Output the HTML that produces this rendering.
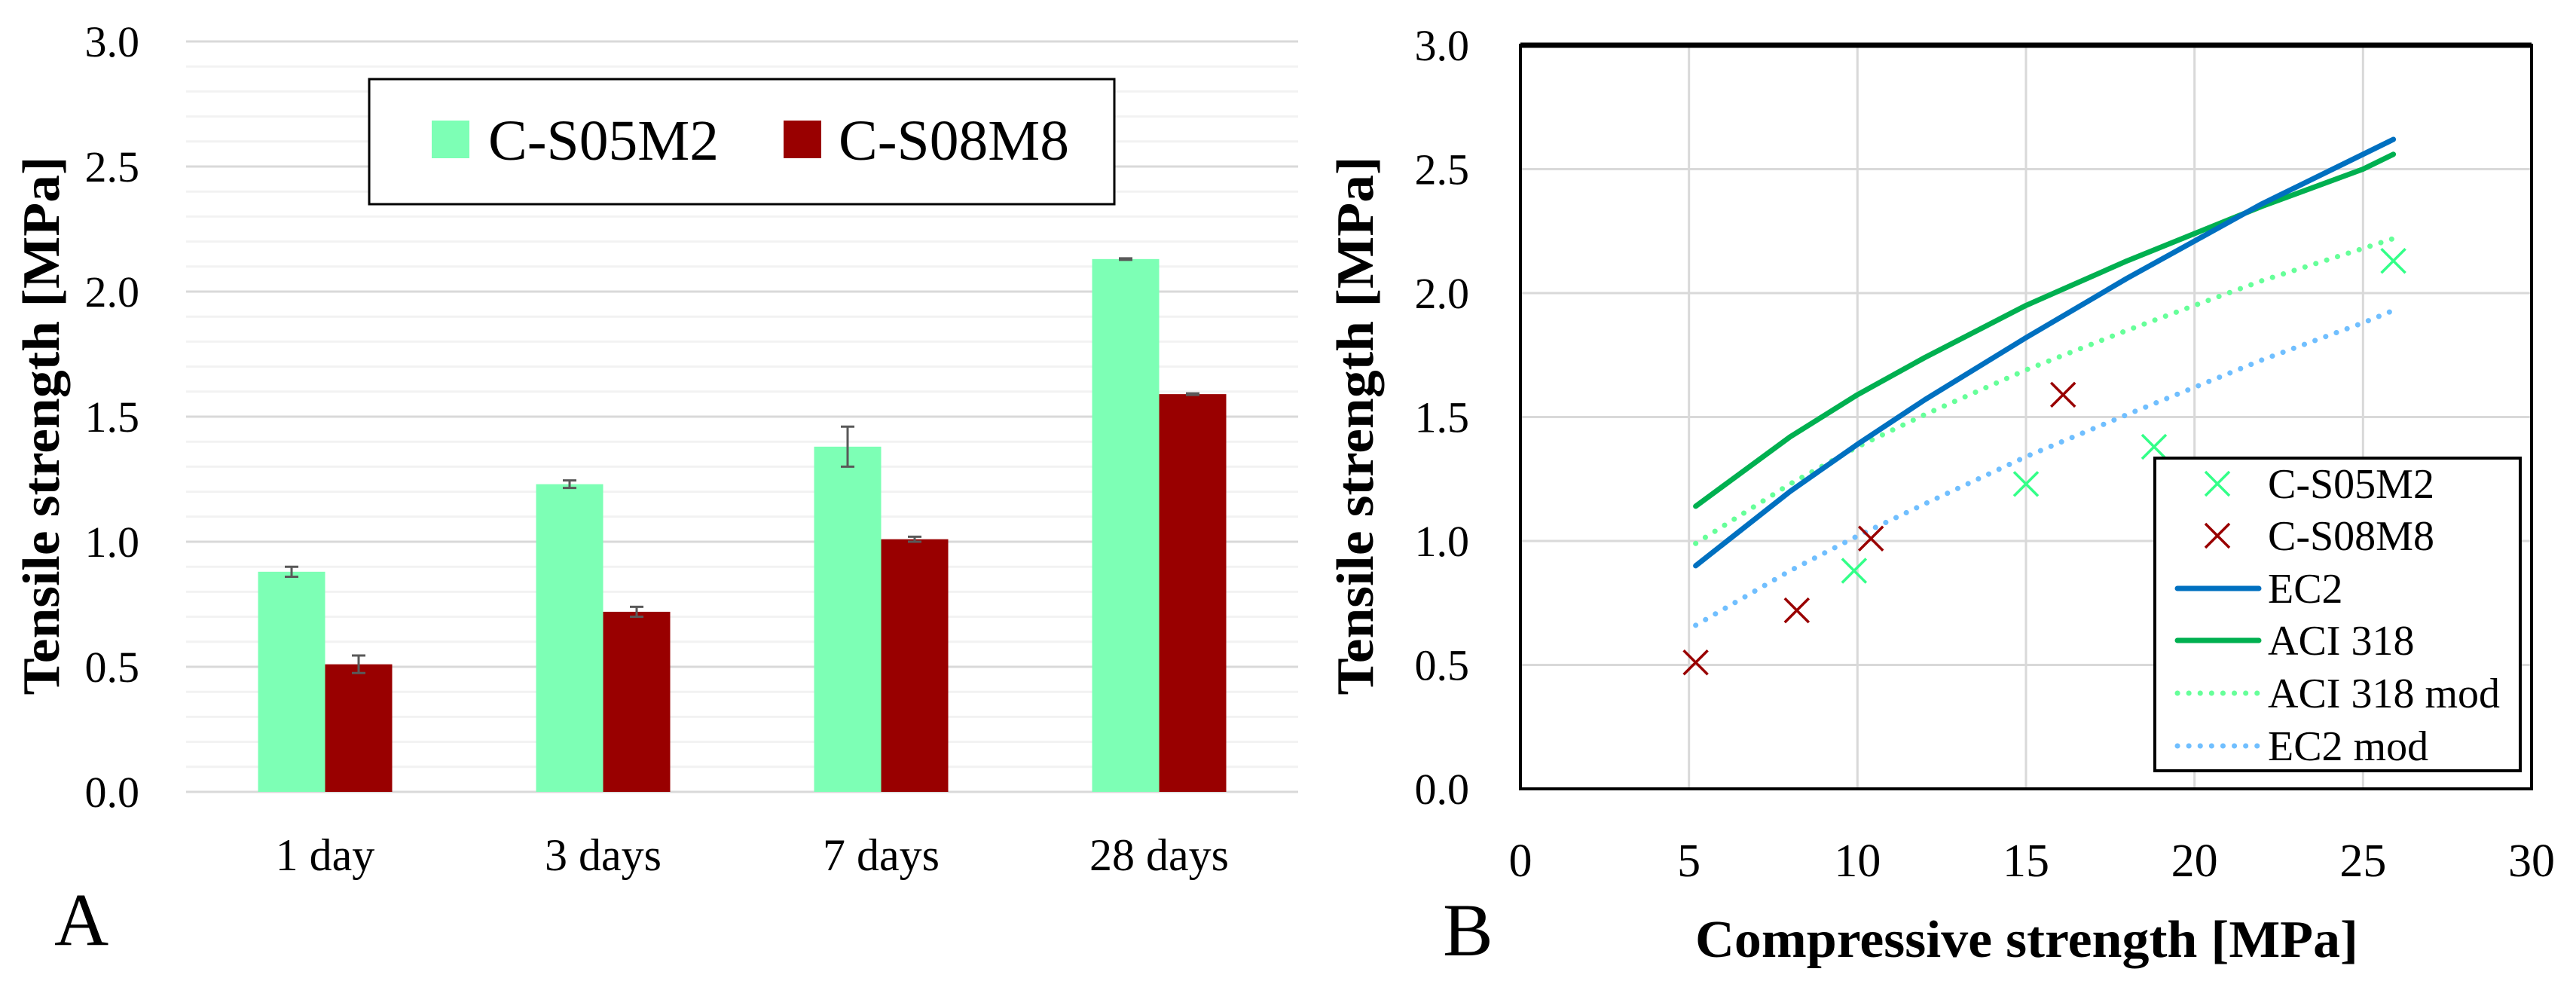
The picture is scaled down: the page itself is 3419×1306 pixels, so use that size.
<!DOCTYPE html>
<html><head><meta charset="utf-8"><style>
html,body{margin:0;padding:0;background:#fff;}
svg{display:block;font-family:"Liberation Serif",serif;}
</style></head><body>
<svg id="fig" width="3419" height="1306" viewBox="0 0 3419 1306" xmlns="http://www.w3.org/2000/svg">
<g id="chartA"></g>
<g id="chartB"></g>
</svg>
<script>
// ---- Chart A data ----
const categories = ["1 day", "3 days", "7 days", "28 days"];
const seriesNames = ["C-S05M2", "C-S08M8"];
const greenValues = [0.88, 1.23, 1.38, 2.13];
const greenErrors = [0.02, 0.015, 0.08, 0.003];
const redValues = [0.51, 0.72, 1.01, 1.59];
const redErrors = [0.035, 0.02, 0.01, 0.003];
const yTicksA = ["0.0", "0.5", "1.0", "1.5", "2.0", "2.5", "3.0"];

// ---- Chart B data ----
const xTicksB = ["0", "5", "10", "15", "20", "25", "30"];
const yTicksB = ["0.0", "0.5", "1.0", "1.5", "2.0", "2.5", "3.0"];
const s05X = [9.9, 15.0, 18.8, 25.9];
const s05Y = [0.88, 1.23, 1.38, 2.13];
const s08X = [5.2, 8.2, 10.4, 16.1];
const s08Y = [0.51, 0.72, 1.01, 1.59];
const curveX = [5.2, 8, 10, 12, 15, 18, 20, 22, 25, 25.9];
const ec2Y = [0.90, 1.20, 1.39, 1.57, 1.82, 2.06, 2.21, 2.36, 2.56, 2.62];
const aciY = [1.14, 1.42, 1.59, 1.74, 1.95, 2.13, 2.24, 2.35, 2.50, 2.56];
const aciModY = [0.99, 1.23, 1.38, 1.51, 1.69, 1.85, 1.95, 2.05, 2.18, 2.22];
const ec2ModY = [0.66, 0.88, 1.02, 1.15, 1.34, 1.51, 1.62, 1.73, 1.88, 1.93];

const NS = "http://www.w3.org/2000/svg";
function mk(parent, tag, attrs, text) {
  const e = document.createElementNS(NS, tag);
  for (const k in attrs) e.setAttribute(k, attrs[k]);
  if (text !== undefined) e.textContent = text;
  parent.appendChild(e);
  return e;
}

// ===== Chart A =====
const A = document.getElementById("chartA");
const aX0 = 247, aX1 = 1723, aY0 = 1051, aPerUnit = 332;
const band = (aX1 - aX0) / categories.length;
const yA = v => aY0 - v * aPerUnit;
const catCenter = i => aX0 + band * (i + 0.5);
const barW = 89;

for (let k = 0; k <= 30; k++) {
  const v = k / 10;
  const major = k % 5 === 0;
  const g = mk(A, "line", {x1: aX0, x2: aX1, y1: yA(v), y2: yA(v), stroke: major ? "#d9d9d9" : "#f2f2f2", "stroke-width": 3});
  
  
}
yTicksA.forEach((t, i) => {
  const e = mk(A, "text", {x: 185, y: yA(parseFloat(t)) + 20, "text-anchor": "end", "font-size": 58}, t);
  
  
});
categories.forEach((c, i) => {
  const cx = catCenter(i);
  const gb = mk(A, "rect", {x: cx - barW, y: yA(greenValues[i]), width: barW, height: aY0 - yA(greenValues[i]), fill: "#7dffb5"});
  
  
  const rb = mk(A, "rect", {x: cx, y: yA(redValues[i]), width: barW, height: aY0 - yA(redValues[i]), fill: "#990000"});
  
  
  [[cx - barW / 2, greenValues[i], greenErrors[i]], [cx + barW / 2, redValues[i], redErrors[i]]].forEach(([ex, v, er]) => {
    const eb = mk(A, "path", {d: `M${ex} ${yA(v + er)}V${yA(v - er)}M${ex - 9} ${yA(v + er)}H${ex + 9}M${ex - 9} ${yA(v - er)}H${ex + 9}`, stroke: "#595959", "stroke-width": 3, fill: "none"});
    
    
  });
  const lbl = mk(A, "text", {x: cx, y: 1155, "text-anchor": "middle", "font-size": 60}, c);
  
  
});
// legend A
const legA = mk(A, "g", {});


mk(legA, "rect", {x: 490, y: 105, width: 989, height: 166, fill: "#fff", stroke: "#000", "stroke-width": 3});
const legColors = ["#7dffb5", "#990000"];
const legSq = [573, 1040], legTx = [648, 1113];
seriesNames.forEach((n, i) => {
  const s = mk(legA, "rect", {x: legSq[i], y: 160, width: 50, height: 50, fill: legColors[i]});
  
  
  const t = mk(legA, "text", {x: legTx[i], y: 212, "font-size": 76, textLength: 306, lengthAdjust: "spacingAndGlyphs"}, n);
  
  
});
const ytA = mk(A, "text", {x: 0, y: 0, transform: "translate(78,565) rotate(-90)", "text-anchor": "middle", "font-size": 70, "font-weight": "bold", textLength: 715, lengthAdjust: "spacingAndGlyphs"}, "Tensile strength [MPa]");


const lA = mk(A, "text", {x: 72, y: 1254, "font-size": 100}, "A");



// ===== Chart B =====
const B = document.getElementById("chartB");
const bX0 = 2018, bX1 = 3360, bY0 = 1047, bY1 = 60;
const xB = v => bX0 + (v / 30) * (bX1 - bX0);
const yB = v => bY0 - (v / 3) * (bY0 - bY1);

xTicksB.forEach(t => {
  const v = parseFloat(t);
  const g = mk(B, "line", {x1: xB(v), x2: xB(v), y1: bY1, y2: bY0, stroke: "#d9d9d9", "stroke-width": 3});
  
  
  const e = mk(B, "text", {x: xB(v), y: 1163, "text-anchor": "middle", "font-size": 62}, t);
  
  
});
yTicksB.forEach(t => {
  const v = parseFloat(t);
  const g = mk(B, "line", {x1: bX0, x2: bX1, y1: yB(v), y2: yB(v), stroke: "#d9d9d9", "stroke-width": 3});
  
  
  const e = mk(B, "text", {x: 1950, y: yB(v) + 20, "text-anchor": "end", "font-size": 58}, t);
  
  
});
// frame
const fr = mk(B, "rect", {x: bX0, y: bY1, width: bX1 - bX0, height: bY0 - bY1, fill: "none", stroke: "#000", "stroke-width": 4});


const topL = mk(B, "line", {x1: bX0, x2: bX1, y1: bY1, y2: bY1, stroke: "#000", "stroke-width": 7});



function pathFrom(xs, ys) {
  return xs.map((x, i) => (i ? "L" : "M") + xB(x).toFixed(1) + " " + yB(ys[i]).toFixed(1)).join("");
}
const curves = [
  {ys: aciModY, color: "#66ff99", dotted: true, name: "line-aci-318-mod"},
  {ys: ec2ModY, color: "#70bfff", dotted: true, name: "line-ec2-mod"},
  {ys: aciY, color: "#00b050", dotted: false, name: "line-aci-318"},
  {ys: ec2Y, color: "#0070c0", dotted: false, name: "line-ec2"}
];
curves.forEach(c => {
  const p = mk(B, "path", {d: pathFrom(curveX, c.ys), fill: "none", stroke: c.color, "stroke-width": 7, "stroke-linecap": "round", "stroke-linejoin": "round"});
  if (c.dotted) p.setAttribute("stroke-dasharray", "0.1 15");
  
  
});
function cross(parent, cx, cy, color) {
  const r = 16;
  return mk(parent, "path", {d: `M${cx - r} ${cy - r}L${cx + r} ${cy + r}M${cx - r} ${cy + r}L${cx + r} ${cy - r}`, stroke: color, "stroke-width": 3.5, fill: "none"});
}
s05X.forEach((x, i) => {
  const m = cross(B, xB(x), yB(s05Y[i]), "#33ff88");
  
  
});
s08X.forEach((x, i) => {
  const m = cross(B, xB(x), yB(s08Y[i]), "#990000");
  
  
});
// legend B
const legB = mk(B, "g", {});


mk(legB, "rect", {x: 2860, y: 608, width: 485, height: 415, fill: "#fff", stroke: "#000", "stroke-width": 4});
const legNames = ["C-S05M2", "C-S08M8", "EC2", "ACI 318", "ACI 318 mod", "EC2 mod"];
const legRows = [642, 711, 781, 850, 920, 990];
legNames.forEach((n, i) => {
  const cy = legRows[i];
  let sym;
  if (i === 0) sym = cross(legB, 2943, cy, "#33ff88");
  else if (i === 1) sym = cross(legB, 2943, cy, "#990000");
  else {
    const col = ["#0070c0", "#00b050", "#66ff99", "#70bfff"][i - 2];
    sym = mk(legB, "line", {x1: 2890, x2: 2998, y1: cy, y2: cy, stroke: col, "stroke-width": 7, "stroke-linecap": "round"});
    if (i >= 4) sym.setAttribute("stroke-dasharray", "0.1 15");
  }
  
  
  const t = mk(legB, "text", {x: 3010, y: cy + 19, "font-size": 56}, n);
  
  
});
const ytB = mk(B, "text", {x: 0, y: 0, transform: "translate(1822,565) rotate(-90)", "text-anchor": "middle", "font-size": 70, "font-weight": "bold", textLength: 715, lengthAdjust: "spacingAndGlyphs"}, "Tensile strength [MPa]");


const xtB = mk(B, "text", {x: 2690, y: 1270, "text-anchor": "middle", "font-size": 70, "font-weight": "bold", textLength: 880, lengthAdjust: "spacingAndGlyphs"}, "Compressive strength [MPa]");


const lB = mk(B, "text", {x: 1915, y: 1268, "font-size": 100}, "B");


</script>
</body></html>
